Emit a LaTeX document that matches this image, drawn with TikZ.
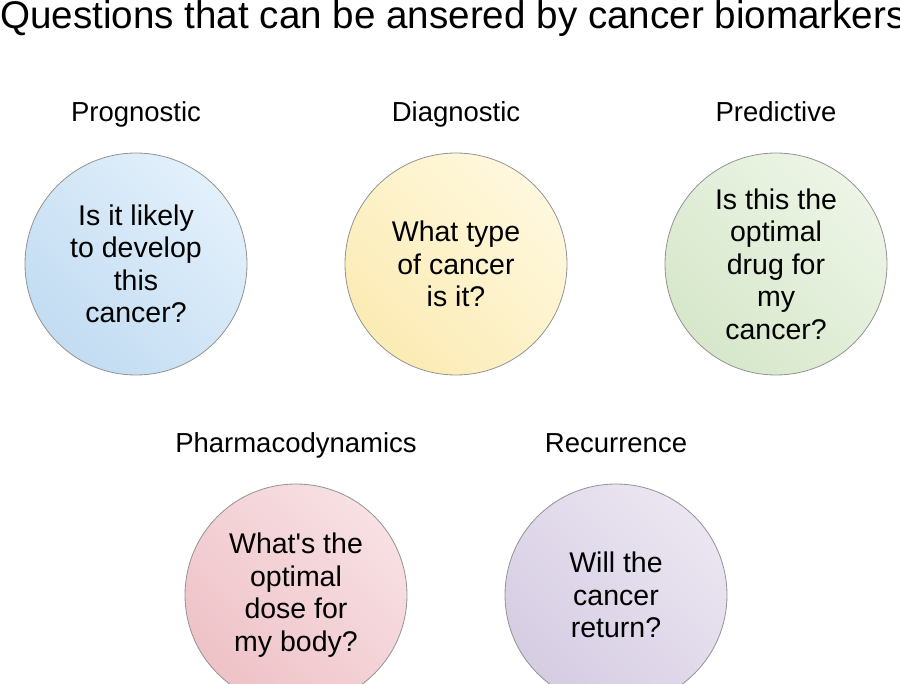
\documentclass[tikz,border=0pt]{standalone}
\usepackage{fontspec}
\setmainfont{Liberation Sans}
\usetikzlibrary{positioning}
\definecolor{blueA}{HTML}{E2F0FB}
\definecolor{blueB}{HTML}{C2DCF2}
\definecolor{yellowA}{HTML}{FFF8DE}
\definecolor{yellowB}{HTML}{FBEBB4}
\definecolor{greenA}{HTML}{EDF5E6}
\definecolor{greenB}{HTML}{D6E7CA}
\definecolor{pinkA}{HTML}{F8E0E3}
\definecolor{pinkB}{HTML}{EEC2C7}
\definecolor{purpleA}{HTML}{EBE6F1}
\definecolor{purpleB}{HTML}{D6CCE3}
\begin{document}
\begin{tikzpicture}[x=1pt, y=-1pt,
  bubble/.style={circle, draw=gray!85, line width=0.8pt, minimum size=222pt,
    inner sep=0pt, align=center, font=\fontsize{28.5}{32.5}\selectfont},
  heading/.style={font=\fontsize{27.5}{30}\selectfont, text depth=0.22em}]
  \useasboundingbox (0,0) rectangle (900,684);
  \node[anchor=base west, inner sep=0pt, font=\fontsize{38.6}{40}\selectfont] (title) at (0,29)
    {Questions that can be ansered by cancer biomarkers};
  % top row
  \node[bubble, top color=blueA, bottom color=blueB, shading angle=-45] (prog) at (136,264)
    {Is it likely\\to develop\\this\\cancer?};
  \node[bubble, top color=yellowA, bottom color=yellowB, shading angle=-45] (diag) at (456,264)
    {What type\\of cancer\\is it?};
  \node[bubble, top color=greenA, bottom color=greenB, shading angle=-45] (pred) at (776,264)
    {Is this the\\optimal\\drug for\\my\\cancer?};
  % bottom row
  \node[bubble, top color=pinkA, bottom color=pinkB, shading angle=-45] (pharm) at (296,595)
    {What\textquotesingle s the\\optimal\\dose for\\my body?};
  \node[bubble, top color=purpleA, bottom color=purpleB, shading angle=-45] (recur) at (616,595)
    {Will the\\cancer\\return?};
  % headings
  \node[heading, above=25pt of prog] (progl) {Prognostic};
  \node[heading, above=25pt of diag] (diagl) {Diagnostic};
  \node[heading, above=25pt of pred] (predl) {Predictive};
  \node[heading, above=25pt of pharm] (pharml) {Pharmacodynamics};
  \node[heading, above=25pt of recur] (recurl) {Recurrence};
\end{tikzpicture}
\end{document}
